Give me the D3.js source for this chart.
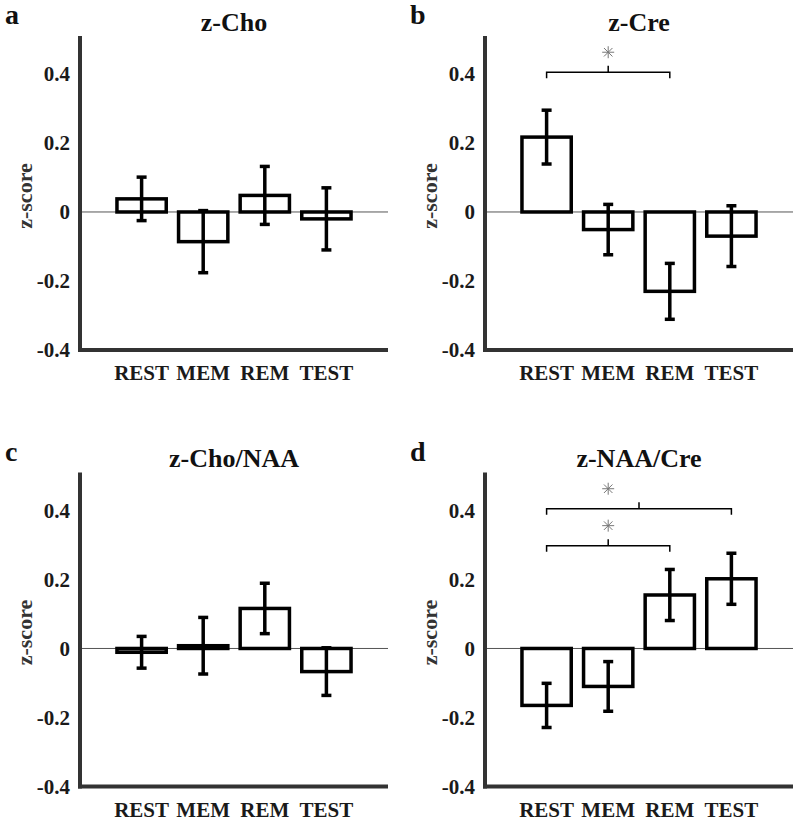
<!DOCTYPE html>
<html>
<head>
<meta charset="utf-8">
<script src="https://cdn.jsdelivr.net/npm/d3@7"></script>
<style>
  body { margin: 0; background: #fff; }
  text { font-family: "Liberation Serif", "Times New Roman", serif; font-weight: bold; }
</style>
</head>
<body>
<div id="chart"></div>
<script>
// values
const conditions = ["REST", "MEM", "REM", "TEST"];
const panelLetters = ["a", "b", "c", "d"];
const panelTitles = ["z-Cho", "z-Cre", "z-Cho/NAA", "z-NAA/Cre"];

const choMean = [0.038, -0.086, 0.048, -0.020];
const choErr = [0.063, 0.090, 0.084, 0.090];
const creMean = [0.217, -0.051, -0.230, -0.070];
const creErr = [0.078, 0.073, 0.081, 0.088];
const choNaaMean = [-0.011, 0.008, 0.116, -0.067];
const choNaaErr = [0.046, 0.082, 0.073, 0.069];
const naaCreMean = [-0.165, -0.110, 0.155, 0.202];
const naaCreErr = [0.064, 0.072, 0.074, 0.074];

const yTicks = [-0.4, -0.2, 0, 0.2, 0.4];

// significance brackets (star sits over the REST-REM midpoint in the original)
const choSig = [];
const creSig = [{ from: "REST", to: "REM", level: 0.405, starAt: 2 }];
const choNaaSig = [];
const naaCreSig = [
  { from: "REST", to: "TEST", level: 0.405, starAt: 2 },
  { from: "REST", to: "REM", level: 0.298, starAt: 2 }
];

const panels = [
  { mean: choMean, err: choErr, sig: choSig },
  { mean: creMean, err: creErr, sig: creSig },
  { mean: choNaaMean, err: choNaaErr, sig: choNaaSig },
  { mean: naaCreMean, err: naaCreErr, sig: naaCreSig }
];

// layout
const W = 800, H = 826;
const plotW = 308, plotH = 314;
const origins = [[80, 36], [485, 36], [80, 472.5], [485, 472.5]];

const svg = d3.select("#chart").append("svg")
  .attr("width", W)
  .attr("height", H);

const x = d3.scaleLinear().domain([0, 5]).range([0, plotW]);
const y = d3.scaleLinear().domain([-0.4, 0.51]).range([plotH, 0]);
const xPos = c => x(conditions.indexOf(c) + 1);
const barW = x(0.8) - x(0);

panels.forEach((p, i) => {
  const g = svg.append("g")
    .attr("transform", `translate(${origins[i][0]},${origins[i][1]})`);

  const rows = conditions.map((c, j) => ({ cond: c, mean: p.mean[j], err: p.err[j] }));

  // zero line
  g.append("line")
    .attr("x1", 0).attr("x2", plotW)
    .attr("y1", y(0)).attr("y2", y(0))
    .attr("stroke", "#555").attr("stroke-width", 1);

  // bars
  g.selectAll("rect.bar")
    .data(rows)
    .join("rect")
    .attr("class", "bar")
    .attr("x", d => xPos(d.cond) - barW / 2)
    .attr("width", barW)
    .attr("y", d => y(Math.max(0, d.mean)))
    .attr("height", d => Math.abs(y(d.mean) - y(0)))
    .attr("fill", "#fff")
    .attr("stroke", "#000")
    .attr("stroke-width", 3.5);

  // error bars
  const eb = g.selectAll("g.err")
    .data(rows)
    .join("g")
    .attr("class", "err")
    .attr("stroke", "#000")
    .attr("stroke-width", 3.5);
  eb.append("line")
    .attr("x1", d => xPos(d.cond)).attr("x2", d => xPos(d.cond))
    .attr("y1", d => y(d.mean - d.err)).attr("y2", d => y(d.mean + d.err));
  [-1, 1].forEach(s => {
    eb.append("line")
      .attr("x1", d => xPos(d.cond) - 5).attr("x2", d => xPos(d.cond) + 5)
      .attr("y1", d => y(d.mean + s * d.err)).attr("y2", d => y(d.mean + s * d.err));
  });

  // significance brackets
  p.sig.forEach(s => {
    const x1 = xPos(s.from), x2 = xPos(s.to), yl = y(s.level);
    g.append("path")
      .attr("d", `M${x1},${yl + 6}V${yl}H${x2}V${yl + 6}M${(x1 + x2) / 2},${yl}V${yl - 6.5}`)
      .attr("fill", "none")
      .attr("stroke", "#000")
      .attr("stroke-width", 1.5);
    const sx = x(s.starAt), sy = yl - 20, r = 6;
    const star = g.append("g").attr("stroke", "#777").attr("stroke-width", 1);
    d3.range(4).forEach(k => {
      const a = k * Math.PI / 4;
      star.append("line")
        .attr("x1", sx - r * Math.cos(a)).attr("x2", sx + r * Math.cos(a))
        .attr("y1", sy - r * Math.sin(a)).attr("y2", sy + r * Math.sin(a));
    });
  });

  // axes (thick lines, no tick marks)
  g.append("line")
    .attr("x1", 0).attr("x2", 0)
    .attr("y1", 0).attr("y2", plotH + 2)
    .attr("stroke", "#333").attr("stroke-width", 4);
  g.append("line")
    .attr("x1", -2).attr("x2", plotW)
    .attr("y1", plotH).attr("y2", plotH)
    .attr("stroke", "#333").attr("stroke-width", 4);

  // y tick labels
  g.selectAll("text.ytick")
    .data(yTicks)
    .join("text")
    .attr("class", "ytick")
    .attr("x", -10)
    .attr("y", d => y(d))
    .attr("dy", "0.35em")
    .attr("text-anchor", "end")
    .attr("font-size", 21)
    .attr("fill", "#1a1a1a")
    .text(d => d === 0 ? "0" : d3.format(".1f")(d).replace("−", "-"));

  // x tick labels
  g.selectAll("text.xtick")
    .data(conditions)
    .join("text")
    .attr("class", "xtick")
    .attr("x", d => xPos(d))
    .attr("y", plotH + 30)
    .attr("text-anchor", "middle")
    .attr("font-size", 21)
    .attr("fill", "#1a1a1a")
    .text(d => d);

  // y axis title
  g.append("text")
    .attr("transform", `translate(-56,${plotH / 2 + 3}) rotate(-90)`)
    .attr("dy", "0.35em")
    .attr("text-anchor", "middle")
    .attr("font-size", 22)
    .attr("fill", "#333")
    .text("z-score");

  // panel title and letter
  g.append("text")
    .attr("x", x(2.5))
    .attr("y", -5.5)
    .attr("text-anchor", "middle")
    .attr("font-size", 26)
    .attr("fill", "#111")
    .text(panelTitles[i]);
  g.append("text")
    .attr("x", -75)
    .attr("y", -12)
    .attr("font-size", 28)
    .attr("fill", "#111")
    .text(panelLetters[i]);
});
</script>
</body>
</html>
